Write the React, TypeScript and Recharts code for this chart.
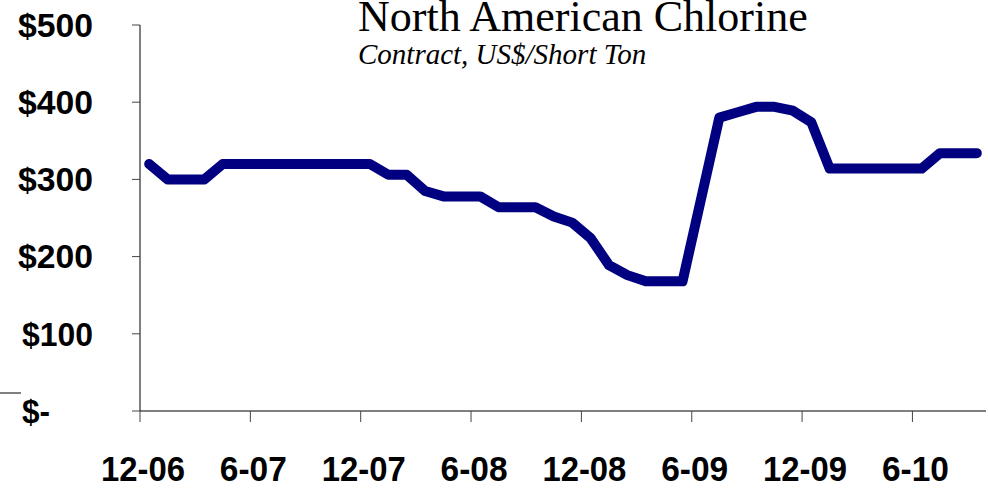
import React from 'react'
import { LineChart, Line, XAxis, YAxis } from 'recharts'

// monthly contract price, Dec 2006 .. Sep 2010 (US$ per short ton)
const prices = [
  320, 300, 300, 300, 320, 320, 320, 320, 320, 320, 320, 320, 320,
  306, 306, 285, 278, 278, 278, 264, 264, 264, 252, 244, 224, 189,
  176, 168, 168, 168, 274, 380, 387, 394, 394, 389, 374, 314, 314,
  314, 314, 314, 314, 334, 334, 334,
]

const monthLabels = ['12-06', '6-07', '12-07', '6-08', '12-08', '6-09', '12-09', '6-10']
const monthTicks = [0, 6, 12, 18, 24, 30, 36, 42]
const dollarTicks = [0, 100, 200, 300, 400, 500]

const data = prices.map((price, i) => ({ m: i + 0.5, price }))

const sans = '"Liberation Sans", Arial, sans-serif'
const serif = '"Liberation Serif", "Times New Roman", serif'

const YTick = (props: any) => {
  const { x, y, payload } = props
  const v = payload.value
  if (v === 0) {
    return (
      <text x={x - 71} y={y} dy="0.36em" textAnchor="start" fontFamily={sans} fontWeight="bold" fontSize={33}
        textLength={28} lengthAdjust="spacingAndGlyphs" fill="#000">
        $-
      </text>
    )
  }
  return (
    <text x={x} y={y} dy="0.36em" textAnchor="end" fontFamily={sans} fontWeight="bold" fontSize={33}
      textLength={v === 100 ? 71 : 75} lengthAdjust="spacingAndGlyphs" fill="#000">
      ${v}
    </text>
  )
}

const XTick = (props: any) => {
  const { x, y, payload } = props
  const label = monthLabels[monthTicks.indexOf(payload.value)]
  return (
    <text x={x + 3} y={y} dy={59} textAnchor="middle" fontFamily={sans} fontWeight="bold" fontSize={35}
      textLength={label.length === 5 ? 84 : 67} lengthAdjust="spacingAndGlyphs" fill="#000">
      {label}
    </text>
  )
}

export default function App() {
  return (
    <div style={{ position: 'absolute', left: 0, top: 0, width: 988, height: 489, background: '#fff', overflow: 'hidden' }}>
      <LineChart width={988} height={489} data={data} margin={{ top: 25, right: 2, bottom: 0, left: 0 }}>
        <XAxis
          type="number"
          dataKey="m"
          domain={[0, 46]}
          ticks={monthTicks}
          interval={0}
          tickSize={11}
          tickMargin={0}
          height={78}
          stroke="#000"
          tickLine={{ stroke: '#444' }}
          tick={<XTick />}
        />
        <YAxis
          type="number"
          domain={[0, 500]}
          ticks={dollarTicks}
          interval={0}
          width={140}
          tickSize={8}
          tickMargin={39}
          stroke="#000"
          tickLine={{ stroke: '#444' }}
          tick={<YTick />}
        />
        <Line
          type="linear"
          dataKey="price"
          stroke="#000080"
          strokeWidth={10}
          strokeLinecap="round"
          strokeLinejoin="round"
          dot={false}
          activeDot={false}
          isAnimationActive={false}
        />
      </LineChart>
      <svg width={988} height={489} style={{ position: 'absolute', left: 0, top: 0, pointerEvents: 'none' }}>
        <text x={358} y={31} fontFamily={serif} fontSize={44} fill="#000">
          North American Chlorine
        </text>
        <text x={358} y={64} fontFamily={serif} fontStyle="italic" fontSize={29} fill="#000">
          Contract, US$/Short Ton
        </text>
        <line x1={0} y1={393} x2={21} y2={393} stroke="#000" strokeWidth={1} />
      </svg>
    </div>
  )
}
